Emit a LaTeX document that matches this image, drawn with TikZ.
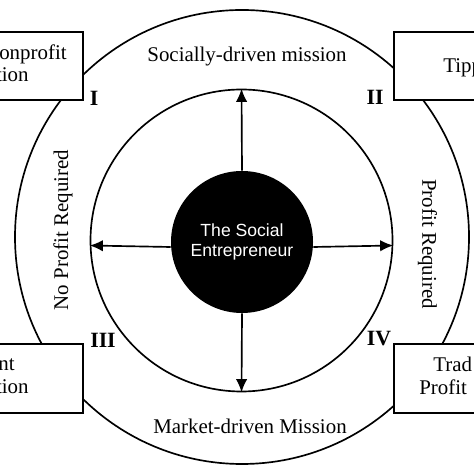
\documentclass[tikz,border=0pt]{standalone}
\usepackage{fontspec}
\setmainfont{Liberation Serif}
\newfontfamily\sefont{Liberation Sans}
\usetikzlibrary{arrows.meta}

\tikzset{
	ring/.style={circle,draw,line width=0.95pt,inner sep=0pt},
	typebox/.style={draw,fill=white,line width=0.95pt,minimum width=3.5cm,minimum height=1.37cm},
	frag/.style={inner sep=0pt},
	quad/.style={inner sep=0pt,font=\fontsize{12.4}{14}\selectfont\bfseries}
}

\begin{document}
\begin{tikzpicture}[font=\fontsize{11.9}{14}\selectfont,>={Latex[length=7.5pt,width=6.5pt]}]
	\useasboundingbox (0,0) rectangle (9.48,9.48);
	\clip (0,0) rectangle (9.48,9.48);
	% rings
	\node[ring,minimum size=9.08cm] (outer) at (4.84,4.74) {};
	\node[ring,minimum size=6.04cm] (inner) at (4.83,4.67) {};
	\node[circle,fill=black,minimum size=2.84cm,inner sep=0pt,align=center,text=white,font=\sefont\fontsize{10}{11.9}\selectfont] (se) at (4.84,4.64) {The Social\\Entrepreneur};
		\draw[->,line width=0.95pt] (se.north) -- (inner.north);
		\draw[->,line width=0.95pt] (se.south) -- (inner.south);
		\draw[->,line width=0.95pt] ([yshift=-0.1cm]se.west) -- ([yshift=-0.1cm]inner.west);
		\draw[->,line width=0.95pt] ([yshift=-0.1cm]se.east) -- ([yshift=-0.1cm]inner.east);
	%
	\node[anchor=base] (smission) at (4.94,8.24) {Socially-driven mission};
	\node[anchor=base] (mmission) at (5.0,0.80) {Market-driven Mission};
	\node[rotate=90] (noprofit) at (1.26,4.88) {No Profit Required};
	\node[rotate=-90] (profit) at (8.55,4.60) {Profit Required};
	%
	\node[typebox,anchor=east] (tl) at (1.68,8.16) {};
		\node[frag,anchor=base east] (tla) at (1.34,8.28) {onprofit};
		\node[frag,anchor=base east] (tlb) at (0.58,7.84) {tion};
	\node[typebox,anchor=west] (tr) at (7.86,8.16) {};
		\node[frag,anchor=base west] (tra) at (8.86,8.02) {Tipp};
	\node[typebox,anchor=east] (bl) at (1.68,1.91) {};
		\node[frag,anchor=base east] (bla) at (0.30,2.06) {nt};
		\node[frag,anchor=base east] (blb) at (0.58,1.60) {tion};
	\node[typebox,anchor=west] (br) at (7.86,1.91) {};
		\node[frag,anchor=base west] (bra) at (8.66,2.04) {Trad};
		\node[frag,anchor=base west] (brb) at (8.38,1.58) {Profit};
	%
	\node[quad] (q1) at (1.88,7.52) {I};
	\node[quad] (q2) at (7.50,7.54) {II};
	\node[quad] (q3) at (2.06,2.68) {III};
	\node[quad] (q4) at (7.58,2.70) {IV};
\end{tikzpicture}
\end{document}
